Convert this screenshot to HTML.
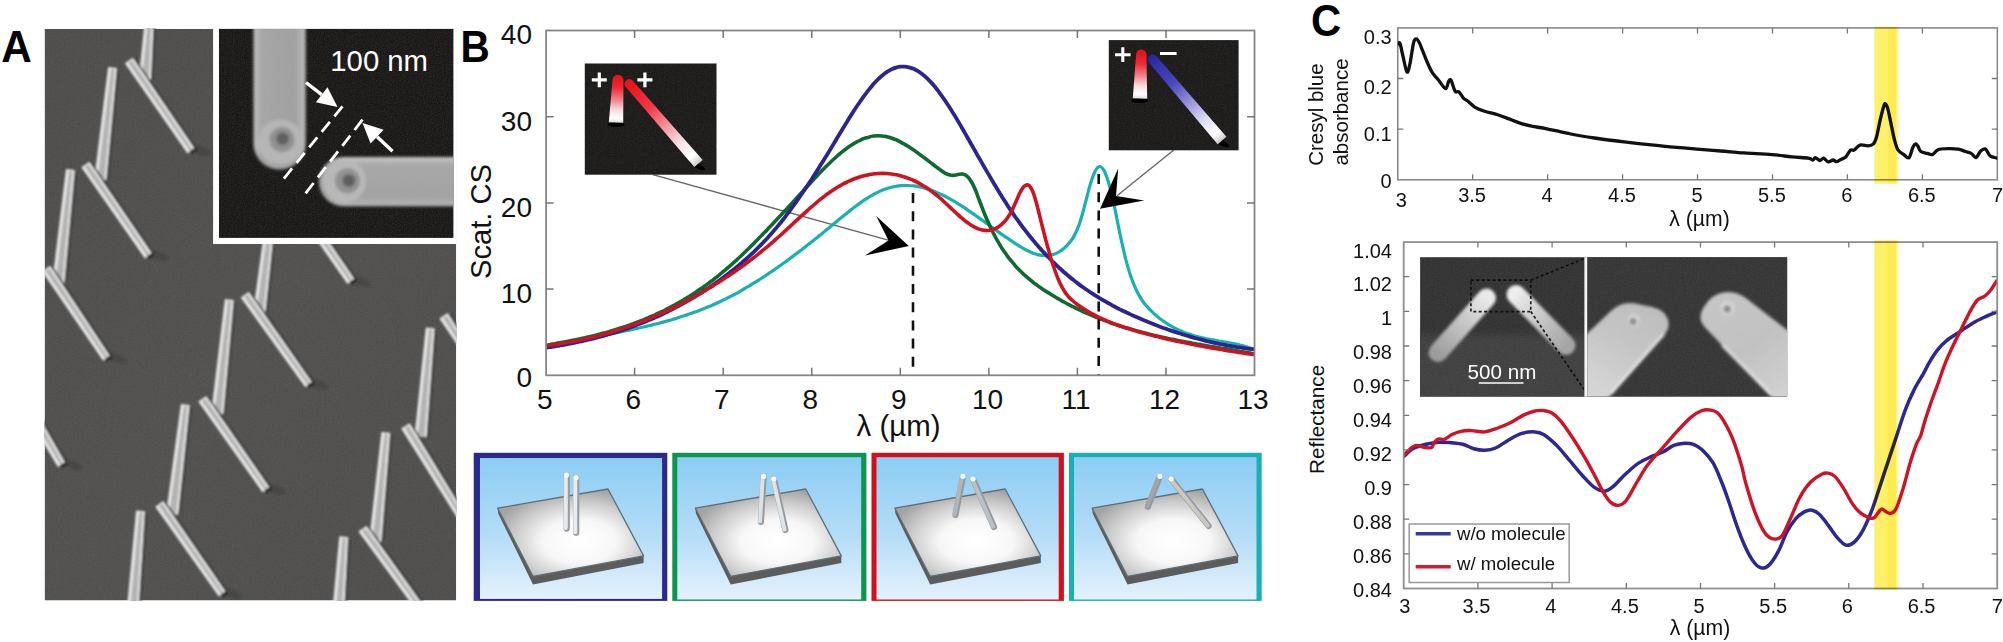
<!DOCTYPE html>
<html lang="en"><head><meta charset="utf-8"><title>Figure</title>
<style>
html,body{margin:0;padding:0;background:#fff;}
body{width:2003px;height:642px;overflow:hidden;font-family:"Liberation Sans",Arial,sans-serif;}
svg{display:block;}
</style></head><body>
<svg width="2003" height="642" viewBox="0 0 2003 642">
<defs>
<linearGradient id="agrad" x1="0" y1="0" x2="1" y2="1">
<stop offset="0" stop-color="#4d4c4a"/><stop offset="0.5" stop-color="#51504e"/><stop offset="1" stop-color="#4e4d4b"/></linearGradient>
<filter id="noise" x="0" y="0" width="100%" height="100%">
<feTurbulence type="fractalNoise" baseFrequency="0.9" numOctaves="2" seed="3" result="n"/>
<feColorMatrix in="n" type="matrix" values="0 0 0 0 0.5  0 0 0 0 0.5  0 0 0 0 0.5  0.9 0.9 0.9 0 -1.0"/>
</filter>
<filter id="blur1" filterUnits="userSpaceOnUse" x="0" y="0" width="2003" height="642"><feGaussianBlur stdDeviation="0.7"/></filter>
<filter id="blur2" filterUnits="userSpaceOnUse" x="0" y="0" width="2003" height="642"><feGaussianBlur stdDeviation="1.6"/></filter>
<filter id="blurA" filterUnits="userSpaceOnUse" x="40" y="20" width="420" height="590"><feGaussianBlur stdDeviation="0.9"/></filter>
<filter id="blur3" filterUnits="userSpaceOnUse" x="0" y="0" width="2003" height="642"><feGaussianBlur stdDeviation="3"/></filter>
<linearGradient id="sky" x1="0" y1="0" x2="0" y2="1">
<stop offset="0" stop-color="#8ccdf4"/><stop offset="0.55" stop-color="#b4dcf7"/><stop offset="1" stop-color="#e4f2fc"/></linearGradient>
<radialGradient id="slab" cx="0.56" cy="0.6" r="0.6">
<stop offset="0" stop-color="#ffffff"/><stop offset="0.42" stop-color="#f7f7f7"/><stop offset="0.75" stop-color="#cbcbcb"/><stop offset="1" stop-color="#a4a4a4"/></radialGradient>
<linearGradient id="redrod" x1="0" y1="0" x2="0" y2="1">
<stop offset="0" stop-color="#e8101c"/><stop offset="0.3" stop-color="#f04050"/><stop offset="0.75" stop-color="#f6d6da"/><stop offset="1" stop-color="#ffffff"/></linearGradient>
<linearGradient id="redrod2" x1="0" y1="0" x2="1" y2="1">
<stop offset="0" stop-color="#e8101c"/><stop offset="0.35" stop-color="#ee3a48"/><stop offset="0.75" stop-color="#f4c0c6"/><stop offset="1" stop-color="#ffffff"/></linearGradient>
<linearGradient id="bluerod" x1="0" y1="0" x2="1" y2="1">
<stop offset="0" stop-color="#2c2aa8"/><stop offset="0.4" stop-color="#5a55c8"/><stop offset="0.75" stop-color="#c4c0ec"/><stop offset="1" stop-color="#ffffff"/></linearGradient>
<clipPath id="clipA"><rect x="44.6" y="28.9" width="411.6" height="571.6"/></clipPath>
<clipPath id="clipIn"><rect x="219" y="28.9" width="234.4" height="209.0"/></clipPath>
<clipPath id="clipB"><rect x="546.5" y="30.5" width="708" height="345"/></clipPath>
<clipPath id="clipC1"><rect x="1397.8" y="27.9" width="599.5" height="152"/></clipPath>
<clipPath id="clipC2"><rect x="1403.7" y="242.1" width="593.5" height="346.5"/></clipPath>
<clipPath id="clipI1"><rect x="1420.1" y="257.2" width="164.3" height="139.4"/></clipPath>
<clipPath id="clipI2"><rect x="1587.3" y="257.2" width="199.9" height="139.4"/></clipPath>
<linearGradient id="band" x1="0" y1="0" x2="1" y2="0"><stop offset="0" stop-color="#fffbe0"/><stop offset="0.05" stop-color="#fdf06c"/><stop offset="0.52" stop-color="#fdf06a"/><stop offset="0.58" stop-color="#fdec50"/><stop offset="0.87" stop-color="#fdec50"/><stop offset="0.91" stop-color="#fef6ae"/><stop offset="1" stop-color="#fffbe0"/></linearGradient>
</defs>
<rect x="0" y="0" width="2003" height="642" fill="#ffffff"/>
<g id="panelA">
<text transform="translate(1.3 61.7) scale(0.94 1)" font-family='"Liberation Sans", Arial, Helvetica, sans-serif' font-weight="bold" font-size="45" fill="#000">A</text>
<g clip-path="url(#clipA)">
<rect x="44.6" y="28.9" width="411.6" height="571.6" fill="url(#agrad)"/>
<rect x="44.6" y="28.9" width="411.6" height="571.6" filter="url(#noise)" opacity="0.10"/>
<g filter="url(#blurA)">
<ellipse cx="199" cy="150" rx="13" ry="4" fill="#333" opacity="0.35" transform="rotate(20 199 150)"/>
<ellipse cx="156.4" cy="255" rx="13" ry="4" fill="#333" opacity="0.35" transform="rotate(20 156.4 255)"/>
<ellipse cx="114.5" cy="357.5" rx="13" ry="4" fill="#333" opacity="0.35" transform="rotate(20 114.5 357.5)"/>
<ellipse cx="69.5" cy="463.8" rx="13" ry="4" fill="#333" opacity="0.35" transform="rotate(20 69.5 463.8)"/>
<ellipse cx="359" cy="280.7" rx="13" ry="4" fill="#333" opacity="0.35" transform="rotate(20 359 280.7)"/>
<ellipse cx="316.7" cy="383.8" rx="13" ry="4" fill="#333" opacity="0.35" transform="rotate(20 316.7 383.8)"/>
<ellipse cx="274" cy="489" rx="13" ry="4" fill="#333" opacity="0.35" transform="rotate(20 274 489)"/>
<ellipse cx="230.2" cy="593.1" rx="13" ry="4" fill="#333" opacity="0.35" transform="rotate(20 230.2 593.1)"/>
<ellipse cx="475.8" cy="352" rx="13" ry="4" fill="#333" opacity="0.35" transform="rotate(20 475.8 352)"/>
<ellipse cx="475.4" cy="525.4" rx="13" ry="4" fill="#333" opacity="0.35" transform="rotate(20 475.4 525.4)"/>
<ellipse cx="432.1" cy="612.9" rx="13" ry="4" fill="#333" opacity="0.35" transform="rotate(20 432.1 612.9)"/>
<path d="M147.4 17.1L155.8 17.8L152.9 79.6L141.1 78.7Z" fill="#2b2b2b" fill-opacity="0.8"/><path d="M145.3 15L154 15.6L151 79.4L138.8 78.5Z" fill="#e6e6e6"/><path d="M148.3 16.7L151.7 17L148.8 79.3L142 78.8Z" fill="#b2b2b2"/>
<path d="M127.8 63.6L135.5 58.3L196 147.5L189.4 152.1Z" fill="#2b2b2b" fill-opacity="0.8"/><path d="M124.8 63.3L132.8 57.7L194.5 148.6L187.5 153.4Z" fill="#e6e6e6"/><path d="M128.2 62.7L131.9 60.2L192.6 149.9L190.2 151.6Z" fill="#b2b2b2"/><line x1="192.2" y1="149.6" x2="194.1" y2="152.3" stroke="#262626" stroke-opacity="0.9" stroke-width="7"/>
<path d="M110.2 69.3L118.5 70.2L108.3 180.3L96.6 179.1Z" fill="#2b2b2b" fill-opacity="0.8"/><path d="M108.1 67L116.9 68L106.4 180.1L94.3 178.8Z" fill="#e6e6e6"/><path d="M111.1 68.9L114.5 69.2L104.3 179.9L97.5 179.2Z" fill="#b2b2b2"/>
<path d="M84.3 167.6L92 162.3L153.4 252.5L146.8 257.1Z" fill="#2b2b2b" fill-opacity="0.8"/><path d="M81.3 167.3L89.3 161.7L151.9 253.6L144.9 258.4Z" fill="#e6e6e6"/><path d="M84.8 166.7L88.4 164.2L150 254.9L147.6 256.6Z" fill="#b2b2b2"/><line x1="149.6" y1="254.6" x2="151.5" y2="257.3" stroke="#262626" stroke-opacity="0.9" stroke-width="7"/>
<path d="M68.1 171.3L76.5 172.2L66.3 283.1L54.6 281.9Z" fill="#2b2b2b" fill-opacity="0.8"/><path d="M66 169L74.8 170L64.4 282.9L52.3 281.6Z" fill="#e6e6e6"/><path d="M69 170.9L72.4 171.2L62.3 282.7L55.5 282Z" fill="#b2b2b2"/>
<path d="M45 271.6L52.8 266.4L111.6 355.1L104.9 359.6Z" fill="#2b2b2b" fill-opacity="0.8"/><path d="M41.9 271.2L50.1 265.8L110 356.2L103 360.8Z" fill="#e6e6e6"/><path d="M45.4 270.7L49.1 268.2L108.2 357.4L105.7 359.1Z" fill="#b2b2b2"/><line x1="107.7" y1="357.1" x2="109.6" y2="359.8" stroke="#262626" stroke-opacity="0.9" stroke-width="7"/>
<path d="M26.7 410.6L34.8 405.9L66.8 461.7L59.9 465.8Z" fill="#2b2b2b" fill-opacity="0.8"/><path d="M23.7 410.1L32.1 405.1L65.1 462.7L57.9 466.9Z" fill="#e6e6e6"/><path d="M27.2 409.8L31 407.5L63.2 463.8L60.6 465.3Z" fill="#b2b2b2"/><line x1="62.8" y1="463.5" x2="64.5" y2="466.3" stroke="#262626" stroke-opacity="0.9" stroke-width="7"/>
<path d="M288 195.1L295.7 189.8L356 278.2L349.4 282.8Z" fill="#2b2b2b" fill-opacity="0.8"/><path d="M285 194.8L293 189.2L354.5 279.3L347.5 284.1Z" fill="#e6e6e6"/><path d="M288.5 194.2L292.1 191.7L352.6 280.6L350.2 282.3Z" fill="#b2b2b2"/><line x1="352.2" y1="280.3" x2="354.1" y2="283" stroke="#262626" stroke-opacity="0.9" stroke-width="7"/>
<path d="M270.5 201.7L278.8 202.7L267.2 313.6L255.5 312.2Z" fill="#2b2b2b" fill-opacity="0.8"/><path d="M268.4 199.5L277.2 200.5L265.3 313.4L253.2 311.9Z" fill="#e6e6e6"/><path d="M271.4 201.3L274.8 201.8L263.1 313.1L256.4 312.3Z" fill="#b2b2b2"/>
<path d="M243.7 297.9L251.4 292.5L313.7 381.3L307.2 385.9Z" fill="#2b2b2b" fill-opacity="0.8"/><path d="M240.7 297.6L248.7 292L312.1 382.4L305.3 387.2Z" fill="#e6e6e6"/><path d="M244.2 297L247.8 294.5L310.3 383.6L307.9 385.4Z" fill="#b2b2b2"/><line x1="309.9" y1="383.3" x2="311.8" y2="386" stroke="#262626" stroke-opacity="0.9" stroke-width="7"/>
<path d="M227 301.2L235.4 302L225.2 414.3L213.5 413.1Z" fill="#2b2b2b" fill-opacity="0.8"/><path d="M224.9 298.9L233.7 299.9L223.4 414.1L211.2 412.8Z" fill="#e6e6e6"/><path d="M227.9 300.8L231.3 301.1L221.2 413.9L214.4 413.2Z" fill="#b2b2b2"/>
<path d="M201.2 401.9L208.9 396.5L271 486.5L264.4 491.1Z" fill="#2b2b2b" fill-opacity="0.8"/><path d="M198.2 401.6L206.2 396L269.4 487.6L262.6 492.4Z" fill="#e6e6e6"/><path d="M201.7 401L205.3 398.5L267.6 488.9L265.2 490.6Z" fill="#b2b2b2"/><line x1="267.2" y1="488.6" x2="269.1" y2="491.3" stroke="#262626" stroke-opacity="0.9" stroke-width="7"/>
<path d="M183 406.2L191.3 407.2L180.1 514.9L168.4 513.5Z" fill="#2b2b2b" fill-opacity="0.8"/><path d="M180.9 404L189.7 405L178.2 514.7L166.1 513.3Z" fill="#e6e6e6"/><path d="M183.9 405.8L187.3 406.3L176 514.4L169.3 513.6Z" fill="#b2b2b2"/>
<path d="M158.2 507L165.9 501.6L227.2 590.6L220.6 595.2Z" fill="#2b2b2b" fill-opacity="0.8"/><path d="M155.2 506.7L163.2 501.1L225.6 591.7L218.8 596.5Z" fill="#e6e6e6"/><path d="M158.7 506.1L162.3 503.6L223.8 593L221.4 594.7Z" fill="#b2b2b2"/><line x1="223.4" y1="592.7" x2="225.3" y2="595.4" stroke="#262626" stroke-opacity="0.9" stroke-width="7"/>
<path d="M138.2 512.7L146.6 513.4L139.8 621.1L128.1 620.2Z" fill="#2b2b2b" fill-opacity="0.8"/><path d="M136.1 510.6L144.9 511.2L137.9 620.9L125.8 620Z" fill="#e6e6e6"/><path d="M139.2 512.3L142.6 512.6L135.8 620.8L129 620.2Z" fill="#b2b2b2"/>
<path d="M442.4 318.8L450.3 313.7L472.9 349.7L466.2 354.1Z" fill="#2b2b2b" fill-opacity="0.8"/><path d="M439.4 318.4L447.6 313L471.3 350.8L464.2 355.3Z" fill="#e6e6e6"/><path d="M442.9 317.9L446.6 315.5L469.4 352L466.9 353.6Z" fill="#b2b2b2"/><line x1="469" y1="351.7" x2="470.8" y2="354.4" stroke="#262626" stroke-opacity="0.9" stroke-width="7"/>
<path d="M427.9 329.6L436.3 330.3L428.5 437.5L416.7 436.5Z" fill="#2b2b2b" fill-opacity="0.8"/><path d="M425.8 327.4L434.6 328.2L426.6 437.3L414.5 436.2Z" fill="#e6e6e6"/><path d="M428.9 329.2L432.3 329.5L424.4 437.1L417.6 436.5Z" fill="#b2b2b2"/>
<path d="M404.2 429L412.2 424L472.6 523.2L465.8 527.4Z" fill="#2b2b2b" fill-opacity="0.8"/><path d="M401.2 428.5L409.6 423.3L471 524.2L463.8 528.6Z" fill="#e6e6e6"/><path d="M404.7 428.1L408.5 425.8L469.1 525.3L466.5 526.9Z" fill="#b2b2b2"/><line x1="468.7" y1="525" x2="470.4" y2="527.8" stroke="#262626" stroke-opacity="0.9" stroke-width="7"/>
<path d="M383.5 434.2L391.9 435L383.2 542.8L371.4 541.6Z" fill="#2b2b2b" fill-opacity="0.8"/><path d="M381.4 432L390.2 432.8L381.3 542.6L369.1 541.4Z" fill="#e6e6e6"/><path d="M384.5 433.8L387.8 434.1L379.1 542.4L372.3 541.7Z" fill="#b2b2b2"/>
<path d="M361.5 531.8L369.1 526.3L429 610.3L422.5 615Z" fill="#2b2b2b" fill-opacity="0.8"/><path d="M358.4 531.6L366.4 525.8L427.5 611.4L420.7 616.4Z" fill="#e6e6e6"/><path d="M361.9 530.9L365.5 528.3L425.7 612.7L423.3 614.5Z" fill="#b2b2b2"/><line x1="425.2" y1="612.4" x2="427.2" y2="615.1" stroke="#262626" stroke-opacity="0.9" stroke-width="7"/>
<path d="M341.5 538.4L349.8 539.1L345.5 622.2L333.7 621.3Z" fill="#2b2b2b" fill-opacity="0.8"/><path d="M339.3 536.3L348.1 536.9L343.6 622.1L331.4 621.2Z" fill="#e6e6e6"/><path d="M342.4 538L345.8 538.3L341.4 621.9L334.6 621.4Z" fill="#b2b2b2"/>
</g>
<rect x="213.1" y="28.7" width="243.3" height="215.3" fill="#ffffff"/>
<rect x="219" y="28.9" width="234.4" height="209.0" fill="#171614"/>
<g clip-path="url(#clipIn)">
<linearGradient id="tubeV" x1="0" y1="0" x2="1" y2="0"><stop offset="0" stop-color="#c4c4c4"/><stop offset="0.14" stop-color="#a6a6a6"/><stop offset="0.8" stop-color="#a0a0a0"/><stop offset="1" stop-color="#bdbdbd"/></linearGradient>
<linearGradient id="tubeH" x1="0" y1="0" x2="0" y2="1"><stop offset="0" stop-color="#c8c8c8"/><stop offset="0.16" stop-color="#a8a8a8"/><stop offset="0.8" stop-color="#a2a2a2"/><stop offset="1" stop-color="#b4b4b4"/></linearGradient>
<g filter="url(#blur2)">
<path d="M253.6 20 L253.6 143.5 A26 26 0 0 0 305.6 143.5 L305.6 20 Z" fill="url(#tubeV)"/>
<path d="M470 157 L343.5 157 A24.6 24.6 0 0 0 343.5 206.2 L470 206.2 Z" fill="url(#tubeH)"/>
<circle cx="280.6" cy="142" r="22.5" fill="#b6b6b6"/>
<circle cx="282" cy="139.5" r="12.5" fill="#8e8e8e"/>
<circle cx="282.5" cy="138.5" r="6.3" fill="#5c5c5c"/>
<circle cx="344.5" cy="181.5" r="21.5" fill="#b8b8b8"/>
<circle cx="347.5" cy="180.8" r="12.5" fill="#909090"/>
<circle cx="348.8" cy="180.5" r="6.3" fill="#5a5a5a"/>
</g>
<rect x="219" y="28.9" width="234.4" height="209.0" filter="url(#noise)" opacity="0.14"/>
<g stroke="#ffffff" stroke-width="2.8" fill="none" stroke-dasharray="13 7">
<line x1="342.5" y1="106.3" x2="281.9" y2="181"/>
<line x1="362.5" y1="119.7" x2="302.9" y2="196.8"/>
</g>
<line x1="306" y1="82.5" x2="321.7" y2="94.7" stroke="#fff" stroke-width="3.4"/><path d="M337.5 107L315.9 102.2L327.5 87.2Z" fill="#fff"/>
<line x1="392.5" y1="151.2" x2="377.1" y2="136.7" stroke="#fff" stroke-width="3.4"/><path d="M362.5 123L383.6 129.8L370.6 143.6Z" fill="#fff"/>
<text x="330.3" y="70.8" font-family='"Liberation Sans", Arial, Helvetica, sans-serif' font-size="29.3" fill="#fff">100 nm</text>
</g>
</g>
</g>
<g id="panelB">
<text transform="translate(460.5 61.7) scale(0.9 1)" font-family='"Liberation Sans", Arial, Helvetica, sans-serif' font-weight="bold" font-size="45" fill="#000">B</text>
<rect x="546.1" y="30.5" width="708.4" height="344.8" fill="#fff"/>
<line x1="652.8" y1="174.7" x2="889" y2="240.3" stroke="#666" stroke-width="1.4"/>
<line x1="1173.5" y1="150.3" x2="1117" y2="195.8" stroke="#666" stroke-width="1.4"/>
<g clip-path="url(#clipB)" fill="none" stroke-linejoin="round" stroke-linecap="round">
<path d="M546.1 347.4C546.8 347.2 549.1 346.6 550.5 346.3C552 345.9 553.5 345.6 555 345.2C556.4 344.9 557.9 344.5 559.4 344.2C560.9 343.9 562.3 343.5 563.8 343.2C565.3 342.9 566.8 342.6 568.2 342.2C569.7 341.9 571.2 341.6 572.7 341.3C574.1 341 575.6 340.7 577.1 340.4C578.6 340.1 580 339.8 581.5 339.5C583 339.2 584.5 338.9 585.9 338.6C587.4 338.3 588.9 338 590.4 337.8C591.9 337.5 593.3 337.2 594.8 336.9C596.3 336.6 597.8 336.3 599.2 336C600.7 335.7 602.2 335.5 603.7 335.2C605.1 334.9 606.6 334.6 608.1 334.3C609.6 334 611 333.7 612.5 333.5C614 333.2 615.5 332.9 616.9 332.6C618.4 332.3 619.9 332 621.4 331.7C622.8 331.4 624.3 331.1 625.8 330.8C627.3 330.5 628.7 330.2 630.2 329.9C631.7 329.6 633.2 329.3 634.6 328.9C636.1 328.6 637.6 328.3 639.1 328C640.6 327.6 642 327.3 643.5 327C645 326.6 646.5 326.3 647.9 326C649.4 325.6 650.9 325.2 652.4 324.9C653.8 324.5 655.3 324.2 656.8 323.8C658.3 323.4 659.7 323 661.2 322.6C662.7 322.2 664.2 321.8 665.6 321.4C667.1 321 668.6 320.6 670.1 320.2C671.5 319.8 673 319.3 674.5 318.9C676 318.5 677.4 318 678.9 317.5C680.4 317.1 681.9 316.6 683.4 316.1C684.8 315.6 686.3 315.2 687.8 314.6C689.3 314.1 690.7 313.6 692.2 313.1C693.7 312.6 695.2 312 696.6 311.5C698.1 310.9 699.6 310.4 701.1 309.8C702.5 309.2 704 308.6 705.5 308C707 307.4 708.4 306.8 709.9 306.2C711.4 305.6 712.9 304.9 714.3 304.3C715.8 303.6 717.3 302.9 718.8 302.2C720.2 301.6 721.7 300.8 723.2 300.1C724.7 299.4 726.2 298.7 727.6 297.9C729.1 297.2 730.6 296.4 732.1 295.6C733.5 294.9 735 294.1 736.5 293.3C738 292.4 739.4 291.6 740.9 290.8C742.4 290 743.9 289.1 745.3 288.2C746.8 287.4 748.3 286.5 749.8 285.6C751.2 284.7 752.7 283.8 754.2 282.9C755.7 282 757.1 281.1 758.6 280.1C760.1 279.2 761.6 278.2 763 277.3C764.5 276.3 766 275.3 767.5 274.3C769 273.3 770.4 272.3 771.9 271.3C773.4 270.3 774.9 269.3 776.3 268.3C777.8 267.2 779.3 266.2 780.8 265.1C782.2 264.1 783.7 263 785.2 262C786.7 260.9 788.1 259.8 789.6 258.7C791.1 257.6 792.6 256.5 794 255.4C795.5 254.3 797 253.2 798.5 252.1C799.9 251 801.4 249.8 802.9 248.7C804.4 247.6 805.8 246.4 807.3 245.3C808.8 244.1 810.3 242.9 811.8 241.8C813.2 240.6 814.7 239.4 816.2 238.2C817.7 237.1 819.1 235.9 820.6 234.7C822.1 233.5 823.6 232.3 825 231.1C826.5 229.9 828 228.7 829.5 227.5C830.9 226.2 832.4 225 833.9 223.8C835.4 222.6 836.8 221.3 838.3 220.1C839.8 218.9 841.3 217.7 842.7 216.5C844.2 215.3 845.7 214.1 847.2 212.9C848.6 211.7 850.1 210.5 851.6 209.4C853.1 208.2 854.5 207.1 856 206C857.5 204.9 859 203.8 860.5 202.8C861.9 201.7 863.4 200.7 864.9 199.7C866.4 198.8 867.8 197.8 869.3 196.9C870.8 196 872.3 195.2 873.7 194.3C875.2 193.5 876.7 192.8 878.2 192.1C879.6 191.3 881.1 190.7 882.6 190.1C884.1 189.5 885.5 188.9 887 188.5C888.5 188 890 187.6 891.4 187.2C892.9 186.8 894.4 186.5 895.9 186.3C897.3 186 898.8 185.9 900.3 185.7C901.8 185.6 903.3 185.5 904.7 185.5C906.2 185.5 907.7 185.5 909.2 185.6C910.6 185.6 912.1 185.8 913.6 185.9C915.1 186.1 916.5 186.3 918 186.6C919.5 186.9 921 187.2 922.4 187.5C923.9 187.9 925.4 188.3 926.9 188.8C928.3 189.2 929.8 189.7 931.3 190.2C932.8 190.8 934.2 191.3 935.7 191.9C937.2 192.5 938.7 193.2 940.1 193.9C941.6 194.5 943.1 195.3 944.6 196C946.1 196.8 947.5 197.6 949 198.4C950.5 199.2 952 200 953.4 200.9C954.9 201.7 956.4 202.6 957.9 203.6C959.3 204.5 960.8 205.4 962.3 206.4C963.8 207.3 965.2 208.3 966.7 209.3C968.2 210.3 969.7 211.3 971.1 212.3C972.6 213.3 974.1 214.4 975.6 215.4C977 216.5 978.5 217.5 980 218.6C981.5 219.6 982.9 220.7 984.4 221.8C985.9 222.8 987.4 223.9 988.9 225C990.3 226.1 991.8 227.1 993.3 228.2C994.8 229.3 996.2 230.3 997.7 231.4C999.2 232.5 1000.7 233.5 1002.1 234.6C1003.6 235.6 1005.1 236.6 1006.6 237.6C1008 238.7 1009.5 239.7 1011 240.7C1012.5 241.7 1013.9 242.6 1015.4 243.6C1016.9 244.5 1018.4 245.5 1019.8 246.4C1021.3 247.3 1022.8 248.2 1024.3 249C1025.7 249.8 1027.2 250.6 1028.7 251.3C1030.2 251.9 1031.6 252.6 1033.1 253.2C1034.6 253.7 1036.1 254.2 1037.6 254.6C1039 255 1040.5 255.3 1042 255.4C1043.5 255.6 1044.9 255.7 1046.4 255.7C1047.9 255.6 1049.4 255.5 1050.8 255.1C1052.3 254.8 1053.8 254.4 1055.3 253.8C1056.7 253.2 1058.2 252.4 1059.7 251.5C1061.2 250.6 1062.6 249.5 1064.1 248.2C1065.6 246.9 1067.1 245.6 1068.5 243.8C1070 242.1 1071.5 240.4 1073 237.9C1074.4 235.4 1075.9 232.7 1077.4 229.1C1078.9 225.5 1080.4 221.1 1081.8 216.1C1083.3 211.1 1084.8 204.8 1086.3 199.3C1087.7 193.8 1089.2 187.7 1090.7 183.1C1092.2 178.4 1093.6 174 1095.1 171.3C1096.6 168.5 1098.1 166.7 1099.5 166.5C1101 166.4 1102.5 167.9 1104 170.4C1105.4 173 1106.9 177.1 1108.4 181.9C1109.9 186.7 1111.3 192.8 1112.8 199.2C1114.3 205.6 1115.8 213.2 1117.2 220.3C1118.7 227.5 1120.2 235.2 1121.7 241.9C1123.2 248.7 1124.6 255.1 1126.1 260.7C1127.6 266.3 1129.1 271.2 1130.5 275.6C1132 280 1133.5 283.7 1135 287.1C1136.4 290.5 1137.9 293.3 1139.4 295.9C1140.9 298.5 1142.3 300.7 1143.8 302.7C1145.3 304.7 1146.8 306.3 1148.2 307.9C1149.7 309.5 1151.2 310.9 1152.7 312.3C1154.1 313.7 1155.6 315 1157.1 316.3C1158.6 317.5 1160 318.7 1161.5 319.8C1163 320.9 1164.5 322 1166 322.9C1167.4 323.9 1168.9 324.8 1170.4 325.7C1171.9 326.6 1173.3 327.4 1174.8 328.2C1176.3 328.9 1177.8 329.6 1179.2 330.3C1180.7 331 1182.2 331.6 1183.7 332.2C1185.1 332.8 1186.6 333.3 1188.1 333.8C1189.6 334.3 1191 334.8 1192.5 335.2C1194 335.7 1195.5 336.1 1196.9 336.5C1198.4 336.9 1199.9 337.2 1201.4 337.6C1202.8 337.9 1204.3 338.2 1205.8 338.5C1207.3 338.8 1208.7 339.1 1210.2 339.4C1211.7 339.7 1213.2 340 1214.7 340.2C1216.1 340.5 1217.6 340.7 1219.1 341C1220.6 341.2 1222 341.5 1223.5 341.8C1225 342 1226.5 342.3 1227.9 342.5C1229.4 342.8 1230.9 343.1 1232.4 343.4C1233.8 343.7 1235.3 344 1236.8 344.3C1238.3 344.6 1239.7 345 1241.2 345.4C1242.7 345.7 1244.2 346.1 1245.6 346.5C1247.1 347 1248.6 347.4 1250.1 347.9C1251.5 348.4 1253.8 349.2 1254.5 349.4" stroke="#17b1b1" stroke-width="3.2"/>
<path d="M546.1 345.2C546.8 345.1 549.1 344.7 550.5 344.4C552 344.2 553.5 343.9 555 343.7C556.4 343.4 557.9 343.1 559.4 342.9C560.9 342.6 562.3 342.3 563.8 342.1C565.3 341.8 566.8 341.5 568.2 341.2C569.7 340.9 571.2 340.6 572.7 340.3C574.1 340 575.6 339.7 577.1 339.4C578.6 339.1 580 338.8 581.5 338.5C583 338.2 584.5 337.8 585.9 337.5C587.4 337.2 588.9 336.8 590.4 336.5C591.9 336.1 593.3 335.8 594.8 335.4C596.3 335 597.8 334.7 599.2 334.3C600.7 333.9 602.2 333.5 603.7 333.1C605.1 332.7 606.6 332.3 608.1 331.9C609.6 331.5 611 331 612.5 330.6C614 330.2 615.5 329.7 616.9 329.2C618.4 328.8 619.9 328.3 621.4 327.8C622.8 327.4 624.3 326.9 625.8 326.4C627.3 325.9 628.7 325.4 630.2 324.8C631.7 324.3 633.2 323.8 634.6 323.2C636.1 322.7 637.6 322.1 639.1 321.5C640.6 321 642 320.4 643.5 319.8C645 319.2 646.5 318.6 647.9 317.9C649.4 317.3 650.9 316.7 652.4 316C653.8 315.3 655.3 314.7 656.8 314C658.3 313.3 659.7 312.6 661.2 311.9C662.7 311.2 664.2 310.5 665.6 309.7C667.1 309 668.6 308.2 670.1 307.4C671.5 306.7 673 305.9 674.5 305.1C676 304.2 677.4 303.4 678.9 302.6C680.4 301.7 681.9 300.9 683.4 300C684.8 299.1 686.3 298.2 687.8 297.3C689.3 296.4 690.7 295.5 692.2 294.5C693.7 293.6 695.2 292.6 696.6 291.6C698.1 290.6 699.6 289.6 701.1 288.6C702.5 287.6 704 286.5 705.5 285.5C707 284.4 708.4 283.3 709.9 282.2C711.4 281.1 712.9 280 714.3 278.8C715.8 277.7 717.3 276.5 718.8 275.3C720.2 274.1 721.7 272.9 723.2 271.7C724.7 270.5 726.2 269.2 727.6 267.9C729.1 266.7 730.6 265.4 732.1 264.1C733.5 262.7 735 261.4 736.5 260.1C738 258.7 739.4 257.3 740.9 256C742.4 254.6 743.9 253.2 745.3 251.7C746.8 250.3 748.3 248.9 749.8 247.4C751.2 246 752.7 244.5 754.2 243.1C755.7 241.6 757.1 240.1 758.6 238.6C760.1 237.1 761.6 235.6 763 234C764.5 232.5 766 231 767.5 229.4C769 227.9 770.4 226.3 771.9 224.8C773.4 223.2 774.9 221.6 776.3 220.1C777.8 218.5 779.3 216.9 780.8 215.3C782.2 213.7 783.7 212.1 785.2 210.5C786.7 208.9 788.1 207.3 789.6 205.7C791.1 204.1 792.6 202.5 794 200.9C795.5 199.3 797 197.6 798.5 196C799.9 194.4 801.4 192.8 802.9 191.2C804.4 189.5 805.8 187.9 807.3 186.3C808.8 184.7 810.3 183.1 811.8 181.5C813.2 179.9 814.7 178.3 816.2 176.7C817.7 175.1 819.1 173.6 820.6 172.1C822.1 170.5 823.6 169 825 167.5C826.5 166 828 164.6 829.5 163.2C830.9 161.7 832.4 160.3 833.9 159C835.4 157.6 836.8 156.3 838.3 155C839.8 153.8 841.3 152.6 842.7 151.4C844.2 150.2 845.7 149.1 847.2 148C848.6 146.9 850.1 145.9 851.6 145C853.1 144 854.5 143.1 856 142.3C857.5 141.5 859 140.7 860.5 140.1C861.9 139.4 863.4 138.8 864.9 138.2C866.4 137.7 867.8 137.2 869.3 136.9C870.8 136.5 872.3 136.2 873.7 136C875.2 135.8 876.7 135.7 878.2 135.7C879.6 135.7 881.1 135.8 882.6 136C884.1 136.1 885.5 136.4 887 136.7C888.5 137.1 890 137.5 891.4 138C892.9 138.5 894.4 139.1 895.9 139.7C897.3 140.4 898.8 141.1 900.3 141.8C901.8 142.6 903.3 143.4 904.7 144.3C906.2 145.1 907.7 146 909.2 147C910.6 147.9 912.1 148.9 913.6 149.9C915.1 151 916.5 152 918 153.1C919.5 154.2 921 155.3 922.4 156.4C923.9 157.5 925.4 158.6 926.9 159.7C928.3 160.9 929.8 162 931.3 163.1C932.8 164.3 934.2 165.4 935.7 166.5C937.2 167.6 938.7 168.8 940.1 169.8C941.6 170.9 943.1 172 944.6 172.8C946.1 173.6 947.5 174.4 949 174.8C950.5 175.3 952 175.4 953.4 175.4C954.9 175.3 956.4 174.7 957.9 174.5C959.3 174.3 960.8 173.8 962.3 174C963.8 174.2 965.2 174.6 966.7 175.8C968.2 177 969.7 178.8 971.1 181.3C972.6 183.7 974.1 187 975.6 190.4C977 193.9 978.5 198.2 980 202C981.5 205.9 982.9 209.9 984.4 213.5C985.9 217.2 987.4 220.6 988.9 223.8C990.3 227.1 991.8 230.1 993.3 233C994.8 235.9 996.2 238.6 997.7 241.2C999.2 243.8 1000.7 246.2 1002.1 248.5C1003.6 250.7 1005.1 252.9 1006.6 254.9C1008 257 1009.5 258.9 1011 260.7C1012.5 262.5 1013.9 264.2 1015.4 265.9C1016.9 267.5 1018.4 269.1 1019.8 270.6C1021.3 272.1 1022.8 273.5 1024.3 274.8C1025.7 276.2 1027.2 277.5 1028.7 278.7C1030.2 280 1031.6 281.2 1033.1 282.3C1034.6 283.5 1036.1 284.5 1037.6 285.6C1039 286.7 1040.5 287.7 1042 288.7C1043.5 289.7 1044.9 290.6 1046.4 291.6C1047.9 292.5 1049.4 293.4 1050.8 294.3C1052.3 295.2 1053.8 296.1 1055.3 297C1056.7 297.9 1058.2 298.7 1059.7 299.6C1061.2 300.4 1062.6 301.2 1064.1 302C1065.6 302.8 1067.1 303.6 1068.5 304.4C1070 305.2 1071.5 305.9 1073 306.7C1074.4 307.4 1075.9 308.2 1077.4 308.9C1078.9 309.6 1080.4 310.3 1081.8 311C1083.3 311.7 1084.8 312.3 1086.3 313C1087.7 313.6 1089.2 314.3 1090.7 314.9C1092.2 315.6 1093.6 316.2 1095.1 316.8C1096.6 317.4 1098.1 318 1099.5 318.6C1101 319.1 1102.5 319.7 1104 320.3C1105.4 320.8 1106.9 321.4 1108.4 321.9C1109.9 322.4 1111.3 323 1112.8 323.5C1114.3 324 1115.8 324.5 1117.2 325C1118.7 325.5 1120.2 325.9 1121.7 326.4C1123.2 326.9 1124.6 327.3 1126.1 327.8C1127.6 328.3 1129.1 328.7 1130.5 329.1C1132 329.6 1133.5 330 1135 330.4C1136.4 330.8 1137.9 331.2 1139.4 331.6C1140.9 332 1142.3 332.4 1143.8 332.8C1145.3 333.2 1146.8 333.5 1148.2 333.9C1149.7 334.3 1151.2 334.6 1152.7 335C1154.1 335.3 1155.6 335.7 1157.1 336C1158.6 336.4 1160 336.7 1161.5 337C1163 337.3 1164.5 337.7 1166 338C1167.4 338.3 1168.9 338.6 1170.4 338.9C1171.9 339.2 1173.3 339.5 1174.8 339.8C1176.3 340.1 1177.8 340.4 1179.2 340.7C1180.7 341 1182.2 341.3 1183.7 341.5C1185.1 341.8 1186.6 342.1 1188.1 342.4C1189.6 342.6 1191 342.9 1192.5 343.2C1194 343.4 1195.5 343.7 1196.9 344C1198.4 344.2 1199.9 344.5 1201.4 344.7C1202.8 345 1204.3 345.3 1205.8 345.5C1207.3 345.8 1208.7 346 1210.2 346.3C1211.7 346.5 1213.2 346.8 1214.7 347C1216.1 347.3 1217.6 347.5 1219.1 347.8C1220.6 348 1222 348.3 1223.5 348.5C1225 348.8 1226.5 349 1227.9 349.3C1229.4 349.5 1230.9 349.8 1232.4 350C1233.8 350.3 1235.3 350.5 1236.8 350.8C1238.3 351 1239.7 351.3 1241.2 351.6C1242.7 351.8 1244.2 352.1 1245.6 352.3C1247.1 352.6 1248.6 352.9 1250.1 353.1C1251.5 353.4 1253.8 353.8 1254.5 354" stroke="#0d6b30" stroke-width="3.6"/>
<path d="M546.1 347.7C546.8 347.6 549.1 347.3 550.5 347C552 346.8 553.5 346.6 555 346.3C556.4 346.1 557.9 345.8 559.4 345.6C560.9 345.3 562.3 345.1 563.8 344.8C565.3 344.5 566.8 344.3 568.2 344C569.7 343.7 571.2 343.4 572.7 343.1C574.1 342.8 575.6 342.5 577.1 342.2C578.6 341.9 580 341.6 581.5 341.3C583 340.9 584.5 340.6 585.9 340.3C587.4 339.9 588.9 339.6 590.4 339.2C591.9 338.9 593.3 338.5 594.8 338.1C596.3 337.7 597.8 337.4 599.2 337C600.7 336.6 602.2 336.2 603.7 335.8C605.1 335.4 606.6 335 608.1 334.5C609.6 334.1 611 333.7 612.5 333.2C614 332.8 615.5 332.3 616.9 331.9C618.4 331.4 619.9 330.9 621.4 330.4C622.8 329.9 624.3 329.5 625.8 328.9C627.3 328.4 628.7 327.9 630.2 327.4C631.7 326.9 633.2 326.3 634.6 325.8C636.1 325.2 637.6 324.7 639.1 324.1C640.6 323.5 642 323 643.5 322.4C645 321.8 646.5 321.2 647.9 320.6C649.4 319.9 650.9 319.3 652.4 318.7C653.8 318 655.3 317.4 656.8 316.7C658.3 316.1 659.7 315.4 661.2 314.7C662.7 314 664.2 313.3 665.6 312.6C667.1 311.9 668.6 311.1 670.1 310.4C671.5 309.7 673 308.9 674.5 308.1C676 307.4 677.4 306.6 678.9 305.8C680.4 305 681.9 304.2 683.4 303.4C684.8 302.6 686.3 301.7 687.8 300.9C689.3 300 690.7 299.2 692.2 298.3C693.7 297.4 695.2 296.5 696.6 295.6C698.1 294.7 699.6 293.8 701.1 292.8C702.5 291.9 704 290.9 705.5 290C707 289 708.4 288 709.9 287C711.4 286 712.9 285 714.3 284C715.8 282.9 717.3 281.9 718.8 280.8C720.2 279.8 721.7 278.7 723.2 277.6C724.7 276.5 726.2 275.4 727.6 274.3C729.1 273.1 730.6 272 732.1 270.8C733.5 269.7 735 268.5 736.5 267.3C738 266.1 739.4 264.8 740.9 263.6C742.4 262.3 743.9 261 745.3 259.7C746.8 258.4 748.3 257.1 749.8 255.7C751.2 254.4 752.7 253 754.2 251.6C755.7 250.1 757.1 248.7 758.6 247.2C760.1 245.7 761.6 244.2 763 242.7C764.5 241.2 766 239.6 767.5 238C769 236.4 770.4 234.7 771.9 233C773.4 231.3 774.9 229.6 776.3 227.9C777.8 226.1 779.3 224.3 780.8 222.5C782.2 220.6 783.7 218.8 785.2 216.8C786.7 214.9 788.1 213 789.6 211C791.1 209 792.6 207 794 205C795.5 202.9 797 200.8 798.5 198.7C799.9 196.6 801.4 194.5 802.9 192.3C804.4 190.2 805.8 188 807.3 185.7C808.8 183.5 810.3 181.3 811.8 179C813.2 176.7 814.7 174.4 816.2 172.1C817.7 169.8 819.1 167.5 820.6 165.1C822.1 162.8 823.6 160.4 825 158C826.5 155.6 828 153.2 829.5 150.8C830.9 148.3 832.4 145.9 833.9 143.4C835.4 141 836.8 138.5 838.3 136.1C839.8 133.6 841.3 131.2 842.7 128.7C844.2 126.3 845.7 123.9 847.2 121.5C848.6 119.1 850.1 116.7 851.6 114.4C853.1 112 854.5 109.8 856 107.5C857.5 105.3 859 103.1 860.5 101C861.9 98.8 863.4 96.8 864.9 94.8C866.4 92.8 867.8 90.9 869.3 89.1C870.8 87.2 872.3 85.5 873.7 83.8C875.2 82.2 876.7 80.6 878.2 79.2C879.6 77.8 881.1 76.4 882.6 75.2C884.1 74 885.5 72.9 887 71.9C888.5 71 890 70.1 891.4 69.4C892.9 68.7 894.4 68.1 895.9 67.6C897.3 67.2 898.8 66.9 900.3 66.7C901.8 66.6 903.3 66.5 904.7 66.6C906.2 66.7 907.7 67 909.2 67.3C910.6 67.7 912.1 68.2 913.6 68.8C915.1 69.5 916.5 70.2 918 71.1C919.5 72 921 73 922.4 74.2C923.9 75.4 925.4 76.6 926.9 78.1C928.3 79.5 929.8 81 931.3 82.6C932.8 84.2 934.2 86 935.7 87.8C937.2 89.6 938.7 91.6 940.1 93.6C941.6 95.6 943.1 97.7 944.6 99.8C946.1 102 947.5 104.2 949 106.5C950.5 108.8 952 111.2 953.4 113.6C954.9 116 956.4 118.4 957.9 120.9C959.3 123.4 960.8 125.9 962.3 128.5C963.8 131 965.2 133.6 966.7 136.2C968.2 138.7 969.7 141.4 971.1 144C972.6 146.6 974.1 149.2 975.6 151.8C977 154.4 978.5 157 980 159.5C981.5 162.1 982.9 164.7 984.4 167.3C985.9 169.8 987.4 172.4 988.9 174.9C990.3 177.4 991.8 179.9 993.3 182.4C994.8 184.9 996.2 187.4 997.7 189.8C999.2 192.2 1000.7 194.6 1002.1 197C1003.6 199.3 1005.1 201.6 1006.6 203.9C1008 206.2 1009.5 208.4 1011 210.6C1012.5 212.8 1013.9 214.9 1015.4 217.1C1016.9 219.2 1018.4 221.2 1019.8 223.2C1021.3 225.3 1022.8 227.2 1024.3 229.2C1025.7 231.1 1027.2 233 1028.7 234.8C1030.2 236.7 1031.6 238.5 1033.1 240.3C1034.6 242 1036.1 243.8 1037.6 245.5C1039 247.2 1040.5 248.8 1042 250.5C1043.5 252.1 1044.9 253.7 1046.4 255.2C1047.9 256.8 1049.4 258.3 1050.8 259.8C1052.3 261.2 1053.8 262.7 1055.3 264.1C1056.7 265.5 1058.2 266.9 1059.7 268.3C1061.2 269.6 1062.6 270.9 1064.1 272.2C1065.6 273.5 1067.1 274.8 1068.5 276C1070 277.3 1071.5 278.5 1073 279.6C1074.4 280.8 1075.9 282 1077.4 283.1C1078.9 284.2 1080.4 285.3 1081.8 286.4C1083.3 287.4 1084.8 288.5 1086.3 289.5C1087.7 290.5 1089.2 291.5 1090.7 292.5C1092.2 293.5 1093.6 294.4 1095.1 295.4C1096.6 296.3 1098.1 297.2 1099.5 298.1C1101 299 1102.5 299.9 1104 300.7C1105.4 301.6 1106.9 302.4 1108.4 303.2C1109.9 304.1 1111.3 304.9 1112.8 305.7C1114.3 306.4 1115.8 307.2 1117.2 308C1118.7 308.7 1120.2 309.5 1121.7 310.2C1123.2 310.9 1124.6 311.6 1126.1 312.3C1127.6 313 1129.1 313.7 1130.5 314.4C1132 315.1 1133.5 315.7 1135 316.4C1136.4 317 1137.9 317.7 1139.4 318.3C1140.9 319 1142.3 319.6 1143.8 320.2C1145.3 320.8 1146.8 321.4 1148.2 322C1149.7 322.6 1151.2 323.2 1152.7 323.8C1154.1 324.4 1155.6 325 1157.1 325.5C1158.6 326.1 1160 326.7 1161.5 327.2C1163 327.8 1164.5 328.3 1166 328.8C1167.4 329.3 1168.9 329.9 1170.4 330.4C1171.9 330.9 1173.3 331.4 1174.8 331.9C1176.3 332.4 1177.8 332.8 1179.2 333.3C1180.7 333.8 1182.2 334.2 1183.7 334.7C1185.1 335.2 1186.6 335.6 1188.1 336C1189.6 336.5 1191 336.9 1192.5 337.3C1194 337.7 1195.5 338.1 1196.9 338.5C1198.4 338.9 1199.9 339.3 1201.4 339.7C1202.8 340.1 1204.3 340.5 1205.8 340.8C1207.3 341.2 1208.7 341.5 1210.2 341.9C1211.7 342.2 1213.2 342.6 1214.7 342.9C1216.1 343.2 1217.6 343.5 1219.1 343.8C1220.6 344.1 1222 344.4 1223.5 344.7C1225 345 1226.5 345.3 1227.9 345.6C1229.4 345.8 1230.9 346.1 1232.4 346.3C1233.8 346.6 1235.3 346.8 1236.8 347.1C1238.3 347.3 1239.7 347.5 1241.2 347.7C1242.7 348 1244.2 348.2 1245.6 348.4C1247.1 348.6 1248.6 348.7 1250.1 348.9C1251.5 349.1 1253.8 349.3 1254.5 349.4" stroke="#2d2391" stroke-width="3.8"/>
<path d="M546.1 345.9C546.8 345.8 549.1 345.5 550.5 345.3C552 345.1 553.5 344.9 555 344.6C556.4 344.4 557.9 344.2 559.4 344C560.9 343.7 562.3 343.5 563.8 343.2C565.3 343 566.8 342.7 568.2 342.5C569.7 342.2 571.2 341.9 572.7 341.6C574.1 341.3 575.6 341 577.1 340.7C578.6 340.4 580 340.1 581.5 339.8C583 339.5 584.5 339.1 585.9 338.8C587.4 338.5 588.9 338.1 590.4 337.8C591.9 337.4 593.3 337 594.8 336.7C596.3 336.3 597.8 335.9 599.2 335.5C600.7 335.1 602.2 334.7 603.7 334.3C605.1 333.9 606.6 333.5 608.1 333C609.6 332.6 611 332.2 612.5 331.7C614 331.3 615.5 330.8 616.9 330.3C618.4 329.9 619.9 329.4 621.4 328.9C622.8 328.4 624.3 327.9 625.8 327.4C627.3 326.9 628.7 326.4 630.2 325.9C631.7 325.4 633.2 324.8 634.6 324.3C636.1 323.7 637.6 323.2 639.1 322.6C640.6 322.1 642 321.5 643.5 320.9C645 320.3 646.5 319.7 647.9 319.1C649.4 318.5 650.9 317.9 652.4 317.3C653.8 316.7 655.3 316 656.8 315.4C658.3 314.7 659.7 314.1 661.2 313.4C662.7 312.8 664.2 312.1 665.6 311.4C667.1 310.7 668.6 310 670.1 309.3C671.5 308.6 673 307.9 674.5 307.2C676 306.5 677.4 305.7 678.9 305C680.4 304.2 681.9 303.5 683.4 302.7C684.8 301.9 686.3 301.2 687.8 300.4C689.3 299.6 690.7 298.8 692.2 298C693.7 297.2 695.2 296.3 696.6 295.5C698.1 294.7 699.6 293.8 701.1 293C702.5 292.1 704 291.3 705.5 290.4C707 289.5 708.4 288.6 709.9 287.7C711.4 286.8 712.9 285.9 714.3 285C715.8 284.1 717.3 283.1 718.8 282.2C720.2 281.3 721.7 280.3 723.2 279.3C724.7 278.4 726.2 277.4 727.6 276.4C729.1 275.4 730.6 274.4 732.1 273.4C733.5 272.4 735 271.4 736.5 270.4C738 269.3 739.4 268.3 740.9 267.2C742.4 266.1 743.9 265.1 745.3 264C746.8 262.9 748.3 261.8 749.8 260.7C751.2 259.6 752.7 258.4 754.2 257.3C755.7 256.1 757.1 255 758.6 253.8C760.1 252.6 761.6 251.4 763 250.2C764.5 249 766 247.8 767.5 246.6C769 245.3 770.4 244.1 771.9 242.8C773.4 241.5 774.9 240.2 776.3 238.9C777.8 237.6 779.3 236.3 780.8 235C782.2 233.7 783.7 232.3 785.2 230.9C786.7 229.6 788.1 228.2 789.6 226.9C791.1 225.5 792.6 224.1 794 222.7C795.5 221.4 797 220 798.5 218.6C799.9 217.3 801.4 215.9 802.9 214.6C804.4 213.2 805.8 211.9 807.3 210.6C808.8 209.3 810.3 207.9 811.8 206.7C813.2 205.4 814.7 204.1 816.2 202.9C817.7 201.6 819.1 200.4 820.6 199.2C822.1 198 823.6 196.9 825 195.8C826.5 194.6 828 193.6 829.5 192.5C830.9 191.5 832.4 190.5 833.9 189.5C835.4 188.5 836.8 187.6 838.3 186.7C839.8 185.8 841.3 185 842.7 184.2C844.2 183.4 845.7 182.7 847.2 182C848.6 181.2 850.1 180.6 851.6 180C853.1 179.3 854.5 178.7 856 178.2C857.5 177.7 859 177.2 860.5 176.7C861.9 176.3 863.4 175.9 864.9 175.5C866.4 175.2 867.8 174.8 869.3 174.6C870.8 174.3 872.3 174.1 873.7 173.9C875.2 173.7 876.7 173.6 878.2 173.5C879.6 173.4 881.1 173.4 882.6 173.4C884.1 173.4 885.5 173.4 887 173.5C888.5 173.6 890 173.8 891.4 174C892.9 174.2 894.4 174.4 895.9 174.7C897.3 175 898.8 175.3 900.3 175.7C901.8 176.1 903.3 176.5 904.7 177C906.2 177.5 907.7 178 909.2 178.6C910.6 179.2 912.1 179.8 913.6 180.5C915.1 181.2 916.5 181.9 918 182.7C919.5 183.5 921 184.3 922.4 185.2C923.9 186.1 925.4 187 926.9 188C928.3 189 929.8 190 931.3 191.1C932.8 192.2 934.2 193.3 935.7 194.5C937.2 195.7 938.7 197 940.1 198.2C941.6 199.5 943.1 200.9 944.6 202.2C946.1 203.6 947.5 205 949 206.4C950.5 207.8 952 209.2 953.4 210.5C954.9 211.9 956.4 213.3 957.9 214.6C959.3 215.9 960.8 217.2 962.3 218.5C963.8 219.7 965.2 220.9 966.7 222C968.2 223.1 969.7 224.1 971.1 225.1C972.6 226 974.1 226.9 975.6 227.6C977 228.3 978.5 228.9 980 229.4C981.5 229.9 982.9 230.2 984.4 230.4C985.9 230.6 987.4 230.6 988.9 230.5C990.3 230.3 991.8 230 993.3 229.5C994.8 229 996.2 228.3 997.7 227.4C999.2 226.4 1000.7 225.3 1002.1 223.9C1003.6 222.6 1005.1 221 1006.6 219.1C1008 217.1 1009.5 215 1011 212.3C1012.5 209.6 1013.9 206.2 1015.4 203C1016.9 199.8 1018.4 195.8 1019.8 193C1021.3 190.2 1022.8 187.5 1024.3 186.2C1025.7 184.9 1027.2 184.3 1028.7 185.3C1030.2 186.4 1031.6 188.8 1033.1 192.4C1034.6 196.1 1036.1 202 1037.6 207.4C1039 212.9 1040.5 219.4 1042 225.2C1043.5 231 1044.9 236.9 1046.4 242.3C1047.9 247.8 1049.4 253.1 1050.8 258C1052.3 262.8 1053.8 267.4 1055.3 271.5C1056.7 275.6 1058.2 279.3 1059.7 282.5C1061.2 285.7 1062.6 288.4 1064.1 290.7C1065.6 293.1 1067.1 295 1068.5 296.7C1070 298.4 1071.5 299.7 1073 301C1074.4 302.3 1075.9 303.4 1077.4 304.5C1078.9 305.5 1080.4 306.5 1081.8 307.5C1083.3 308.5 1084.8 309.5 1086.3 310.4C1087.7 311.3 1089.2 312.2 1090.7 313C1092.2 313.8 1093.6 314.6 1095.1 315.4C1096.6 316.2 1098.1 316.9 1099.5 317.6C1101 318.3 1102.5 319 1104 319.7C1105.4 320.4 1106.9 321 1108.4 321.6C1109.9 322.2 1111.3 322.8 1112.8 323.4C1114.3 323.9 1115.8 324.5 1117.2 325C1118.7 325.5 1120.2 326 1121.7 326.5C1123.2 327 1124.6 327.5 1126.1 328C1127.6 328.4 1129.1 328.9 1130.5 329.3C1132 329.8 1133.5 330.2 1135 330.6C1136.4 331.1 1137.9 331.5 1139.4 331.9C1140.9 332.3 1142.3 332.7 1143.8 333.1C1145.3 333.5 1146.8 333.9 1148.2 334.3C1149.7 334.7 1151.2 335.1 1152.7 335.4C1154.1 335.8 1155.6 336.2 1157.1 336.6C1158.6 336.9 1160 337.3 1161.5 337.7C1163 338 1164.5 338.4 1166 338.7C1167.4 339.1 1168.9 339.4 1170.4 339.7C1171.9 340.1 1173.3 340.4 1174.8 340.7C1176.3 341.1 1177.8 341.4 1179.2 341.7C1180.7 342 1182.2 342.3 1183.7 342.6C1185.1 342.9 1186.6 343.2 1188.1 343.5C1189.6 343.8 1191 344.1 1192.5 344.4C1194 344.7 1195.5 345 1196.9 345.3C1198.4 345.6 1199.9 345.8 1201.4 346.1C1202.8 346.4 1204.3 346.7 1205.8 346.9C1207.3 347.2 1208.7 347.5 1210.2 347.7C1211.7 348 1213.2 348.2 1214.7 348.5C1216.1 348.7 1217.6 349 1219.1 349.2C1220.6 349.5 1222 349.7 1223.5 350C1225 350.2 1226.5 350.5 1227.9 350.7C1229.4 350.9 1230.9 351.2 1232.4 351.4C1233.8 351.6 1235.3 351.8 1236.8 352.1C1238.3 352.3 1239.7 352.5 1241.2 352.7C1242.7 353 1244.2 353.2 1245.6 353.4C1247.1 353.6 1248.6 353.8 1250.1 354C1251.5 354.2 1253.8 354.5 1254.5 354.7" stroke="#cf1220" stroke-width="3.6"/>
</g>
<line x1="913" y1="193" x2="913" y2="375" stroke="#111" stroke-width="2.6" stroke-dasharray="10 8.2"/>
<line x1="1098.7" y1="174" x2="1098.7" y2="375" stroke="#111" stroke-width="2.6" stroke-dasharray="10 8.2"/>
<path d="M908.8 246.1L876.2 216L888.5 240.5L865 255.6Z" fill="#000"/>
<path d="M1100 208.8L1118.2 168.5L1116 196.1L1144.2 200.6Z" fill="#000"/>
<rect x="546.1" y="30.5" width="708.4" height="344.8" fill="none" stroke="#868686" stroke-width="1.8"/>
<path d="M634.6 375.3v-7.5M634.6 30.5v7.5M723.2 375.3v-7.5M723.2 30.5v7.5M811.8 375.3v-7.5M811.8 30.5v7.5M900.3 375.3v-7.5M900.3 30.5v7.5M988.9 375.3v-7.5M988.9 30.5v7.5M1077.4 375.3v-7.5M1077.4 30.5v7.5M1166 375.3v-7.5M1166 30.5v7.5M546.1 289.1h7.5M1254.5 289.1h-7.5M546.1 202.9h7.5M1254.5 202.9h-7.5M546.1 116.7h7.5M1254.5 116.7h-7.5" stroke="#777" stroke-width="1.5" fill="none"/>
<g font-family='"Liberation Sans", Arial, Helvetica, sans-serif' font-size="28" fill="#111">
<text x="532" y="387.3" text-anchor="end">0</text>
<text x="532" y="302.9" text-anchor="end">10</text>
<text x="532" y="216.7" text-anchor="end">20</text>
<text x="532" y="130.5" text-anchor="end">30</text>
<text x="532" y="44.3" text-anchor="end">40</text>
<text x="544.7" y="409.0" text-anchor="middle">5</text>
<text x="633.2" y="409.0" text-anchor="middle">6</text>
<text x="721.8" y="409.0" text-anchor="middle">7</text>
<text x="810.4" y="409.0" text-anchor="middle">8</text>
<text x="898.9" y="409.0" text-anchor="middle">9</text>
<text x="987.5" y="409.0" text-anchor="middle">10</text>
<text x="1076" y="409.0" text-anchor="middle">11</text>
<text x="1164.5" y="409.0" text-anchor="middle">12</text>
<text x="1253.1" y="409.0" text-anchor="middle">13</text>
<text x="898.5" y="436" text-anchor="middle" font-size="29.4">λ (µm)</text>
<text transform="translate(491.3 221.5) rotate(-90)" text-anchor="middle" font-size="29.2">Scat. CS</text>
</g>
<rect x="584.8" y="63.5" width="131.7" height="111.2" fill="#1a1918"/>
<rect x="584.8" y="63.5" width="131.7" height="111.2" filter="url(#noise)" opacity="0.10"/>
<linearGradient id="gL1" gradientUnits="userSpaceOnUse" x1="618" y1="76" x2="616" y2="123"><stop offset="0" stop-color="#e0141c"/><stop offset="0.25" stop-color="#ee2a36"/><stop offset="0.5" stop-color="#f28088"/><stop offset="0.72" stop-color="#f6dcdf"/><stop offset="0.9" stop-color="#ffffff"/><stop offset="1" stop-color="#d8d8d8"/></linearGradient>
<linearGradient id="gL2" gradientUnits="userSpaceOnUse" x1="630" y1="83" x2="698" y2="163"><stop offset="0" stop-color="#e8121c"/><stop offset="0.3" stop-color="#f03844"/><stop offset="0.55" stop-color="#f59aa2"/><stop offset="0.75" stop-color="#f8e4e6"/><stop offset="0.92" stop-color="#ffffff"/><stop offset="1" stop-color="#cfcfcf"/></linearGradient>
<g filter="url(#blur1)">
<ellipse cx="616" cy="124.5" rx="8.5" ry="2.6" fill="#050505"/>
<ellipse cx="697" cy="165.5" rx="9" ry="2.6" fill="#050505" transform="rotate(28 697 165.5)"/>
<path d="M623.5 80.5 A5.5 5.5 0 0 0 612.5 79.9 L608.8 122.2 L623.2 122.8 Z" fill="url(#gL1)" />
<path d="M632.6 80.4 A4.8 4.8 0 0 0 625.4 86.6 L694.3 167.1 L702.7 159.9 Z" fill="url(#gL2)" />
</g>
<g stroke="#fff" stroke-width="3.2">
<path d="M591.8 79.9h15M599.3 72.5v14.8M637.4 79.9h15M644.9 72.5v14.8"/>
</g>
<rect x="1108.8" y="40.1" width="129.8" height="110.2" fill="#1a1918"/>
<rect x="1108.8" y="40.1" width="129.8" height="110.2" filter="url(#noise)" opacity="0.10"/>
<linearGradient id="gR1" gradientUnits="userSpaceOnUse" x1="1141.5" y1="52" x2="1140" y2="99"><stop offset="0" stop-color="#e0141c"/><stop offset="0.25" stop-color="#ee2a36"/><stop offset="0.5" stop-color="#f28088"/><stop offset="0.72" stop-color="#f6dcdf"/><stop offset="0.9" stop-color="#ffffff"/><stop offset="1" stop-color="#d8d8d8"/></linearGradient>
<linearGradient id="gR2" gradientUnits="userSpaceOnUse" x1="1153" y1="58" x2="1221" y2="140"><stop offset="0" stop-color="#2a28a4"/><stop offset="0.3" stop-color="#4a46bc"/><stop offset="0.55" stop-color="#9a96dc"/><stop offset="0.75" stop-color="#dcdaf4"/><stop offset="0.92" stop-color="#ffffff"/><stop offset="1" stop-color="#d0d0d0"/></linearGradient>
<g filter="url(#blur1)">
<ellipse cx="1139.5" cy="100.5" rx="8.5" ry="2.6" fill="#050505"/>
<ellipse cx="1221" cy="142.5" rx="9" ry="2.6" fill="#050505" transform="rotate(28 1221 142.5)"/>
<path d="M1146.5 54.8 A5.2 5.2 0 0 0 1136.1 54.4 L1132.8 98.3 L1147.2 98.7 Z" fill="url(#gR1)" />
<path d="M1156.3 56.1 A4.9 4.9 0 0 0 1148.9 62.5 L1217.6 144.2 L1226.4 136.8 Z" fill="url(#gR2)" />
</g>
<g stroke="#fff" stroke-width="3.1">
<path d="M1115.0 54.7h15.6M1122.8 47.3v14.8M1160 53.5h16.6"/>
</g>
<rect x="473.7" y="452.8" width="193.6" height="148.1" fill="#2b2a8c"/>
<rect x="480" y="458" width="182.1" height="140.9" fill="url(#sky)"/>
<g filter="url(#blur1)">
<path d="M497.7 508.2L533 576.3L643.6 555.9L643.6 563.1L533 584.5L498.2 513.4Z" fill="#5c5c5c"/>
<path d="M497.7 508.2L608 489L643.6 555.9L533 576.3Z" fill="url(#slab)" stroke="#5d6e74" stroke-width="1.3" stroke-linejoin="round"/>
<line x1="566.7" y1="475" x2="566.7" y2="528.6" stroke="#959ba1" stroke-width="6.2" stroke-linecap="round"/>
<line x1="565.8" y1="475" x2="565.8" y2="528.1" stroke="#e6eaee" stroke-width="4.0" stroke-linecap="round"/>
<circle cx="566.7" cy="474.8" r="2.6" fill="#f8fbfd"/>
<line x1="576.2" y1="477.8" x2="576.2" y2="532.7" stroke="#959ba1" stroke-width="6.2" stroke-linecap="round"/>
<line x1="575.3" y1="477.8" x2="575.3" y2="532.2" stroke="#e8ecf0" stroke-width="4.0" stroke-linecap="round"/>
<circle cx="576.2" cy="477.6" r="2.6" fill="#f8fbfd"/>
</g>
<rect x="672.3" y="452.8" width="194.1" height="148.1" fill="#0e9550"/>
<rect x="677.3" y="457.2" width="183.9" height="142.3" fill="url(#sky)"/>
<g filter="url(#blur1)">
<path d="M695.4 508.2L730.7 576.3L841.3 555.9L841.3 563.1L730.7 584.5L695.9 513.4Z" fill="#5c5c5c"/>
<path d="M695.4 508.2L805.7 489L841.3 555.9L730.7 576.3Z" fill="url(#slab)" stroke="#5d6e74" stroke-width="1.3" stroke-linejoin="round"/>
<line x1="763.6" y1="476.4" x2="760.9" y2="521.8" stroke="#959ba1" stroke-width="6.2" stroke-linecap="round"/>
<line x1="762.7" y1="476.4" x2="760" y2="521.3" stroke="#dde1e5" stroke-width="4.0" stroke-linecap="round"/>
<circle cx="763.6" cy="476.2" r="2.6" fill="#f8fbfd"/>
<line x1="774" y1="479" x2="785.4" y2="530" stroke="#959ba1" stroke-width="6.2" stroke-linecap="round"/>
<line x1="773.1" y1="479" x2="784.5" y2="529.5" stroke="#e0e4e8" stroke-width="4.0" stroke-linecap="round"/>
<circle cx="774" cy="478.8" r="2.6" fill="#f8fbfd"/>
</g>
<rect x="871.5" y="452.8" width="192.4" height="148.1" fill="#d2101c"/>
<rect x="876.5" y="457.2" width="182.2" height="142.3" fill="url(#sky)"/>
<g filter="url(#blur1)">
<path d="M894.9 508.2L930.2 576.3L1040.8 555.9L1040.8 563.1L930.2 584.5L895.4 513.4Z" fill="#5c5c5c"/>
<path d="M894.9 508.2L1005.2 489L1040.8 555.9L930.2 576.3Z" fill="url(#slab)" stroke="#5d6e74" stroke-width="1.3" stroke-linejoin="round"/>
<line x1="963" y1="476.4" x2="955.4" y2="515" stroke="#959ba1" stroke-width="6.2" stroke-linecap="round"/>
<line x1="962.1" y1="476.4" x2="954.5" y2="514.5" stroke="#b2b6ba" stroke-width="4.0" stroke-linecap="round"/>
<circle cx="963" cy="476.2" r="2.6" fill="#f8fbfd"/>
<line x1="973" y1="479" x2="994" y2="527" stroke="#959ba1" stroke-width="6.2" stroke-linecap="round"/>
<line x1="972.1" y1="479" x2="993.1" y2="526.5" stroke="#bcc0c4" stroke-width="4.0" stroke-linecap="round"/>
<circle cx="973" cy="478.8" r="2.6" fill="#f8fbfd"/>
</g>
<rect x="1069" y="452.8" width="192.7" height="148.1" fill="#19b0b4"/>
<rect x="1074" y="457.2" width="182.5" height="142.3" fill="url(#sky)"/>
<g filter="url(#blur1)">
<path d="M1092.2 508.2L1127.5 576.3L1238.1 555.9L1238.1 563.1L1127.5 584.5L1092.7 513.4Z" fill="#5c5c5c"/>
<path d="M1092.2 508.2L1202.5 489L1238.1 555.9L1127.5 576.3Z" fill="url(#slab)" stroke="#5d6e74" stroke-width="1.3" stroke-linejoin="round"/>
<line x1="1160" y1="476.4" x2="1147.8" y2="506.8" stroke="#959ba1" stroke-width="6.2" stroke-linecap="round"/>
<line x1="1159.1" y1="476.4" x2="1146.9" y2="506.3" stroke="#a2a4a6" stroke-width="4.0" stroke-linecap="round"/>
<circle cx="1160" cy="476.2" r="2.6" fill="#f8fbfd"/>
<line x1="1171.2" y1="479" x2="1208.6" y2="525.9" stroke="#959ba1" stroke-width="6.2" stroke-linecap="round"/>
<line x1="1170.3" y1="479" x2="1207.7" y2="525.4" stroke="#cbc9c2" stroke-width="4.0" stroke-linecap="round"/>
<circle cx="1171.2" cy="478.8" r="2.6" fill="#f8fbfd"/>
</g>
</g>
<g id="panelC">
<text transform="translate(1311 35.6) scale(0.93 1)" font-family='"Liberation Sans", Arial, Helvetica, sans-serif' font-weight="bold" font-size="45" fill="#000">C</text>
<rect x="1397.8" y="27.9" width="599.5" height="151.9" fill="#fff"/>
<rect x="1397.8" y="27.9" width="599.5" height="151.9" fill="none" stroke="#8a8a8a" stroke-width="1.6"/>
<path d="M1472.7 179.8v-5.5M1472.7 27.9v5.5M1547.7 179.8v-5.5M1547.7 27.9v5.5M1622.6 179.8v-5.5M1622.6 27.9v5.5M1697.5 179.8v-5.5M1697.5 27.9v5.5M1772.5 179.8v-5.5M1772.5 27.9v5.5M1847.4 179.8v-5.5M1847.4 27.9v5.5M1922.4 179.8v-5.5M1922.4 27.9v5.5M1397.8 129.2h5.5M1997.3 129.2h-5.5M1397.8 78.5h5.5M1997.3 78.5h-5.5" stroke="#777" stroke-width="1.3" fill="none"/>
<g clip-path="url(#clipC1)"><path d="M1397 45C1397.5 44.7 1398.9 41.3 1399.8 43.1C1400.8 45 1401.7 51.1 1402.9 55.9C1404.1 60.7 1405.8 70.7 1406.9 72C1408.1 73.3 1408.9 68.4 1410 63.5C1411.1 58.6 1412.5 46.8 1413.6 42.7C1414.6 38.6 1415.4 38.8 1416.4 38.9C1417.4 39 1418.4 41 1419.5 43.1C1420.6 45.3 1421.6 48.3 1423 51.7C1424.4 55 1426.2 59.9 1427.8 63.5C1429.3 67 1430.7 70.2 1432.5 72.9C1434.3 75.7 1436.2 77.4 1438.4 80C1440.6 82.6 1443.8 88.3 1445.5 88.6C1447.2 88.8 1447.7 82.9 1448.6 81.5C1449.5 80 1450.1 78.9 1450.9 80C1451.8 81.2 1453 86.1 1453.8 88.1C1454.6 90.1 1454.8 91.2 1455.7 91.9C1456.5 92.5 1457.7 90.9 1459 91.9C1460.2 92.9 1461.7 96.2 1463.2 97.8C1464.7 99.4 1466 99.8 1468 101.3C1469.9 102.9 1472.3 105.6 1475.1 107.3C1477.8 108.9 1481 110.1 1484.5 111.3C1488.1 112.5 1492.4 113.1 1496.4 114.3C1500.3 115.6 1504.2 117.1 1508.2 118.6C1512.1 120.1 1516.1 121.8 1520 123.1C1524 124.4 1527.4 125.2 1531.8 126.2C1536.3 127.1 1540.5 127.5 1547 128.8C1553.5 130.1 1562.8 132.4 1570.7 134C1578.5 135.5 1585.8 136.7 1594.3 138C1602.9 139.3 1613.3 140.5 1622 141.6C1630.7 142.6 1638.4 143.5 1646.4 144.4C1654.4 145.3 1661.6 146 1670 146.8C1678.5 147.5 1688.5 148.4 1697 149.1C1705.4 149.8 1712.8 150.4 1720.7 151C1728.5 151.6 1735.8 152.3 1744.3 152.9C1752.9 153.5 1764.1 153.9 1772 154.6C1779.9 155.2 1785.6 156.3 1791.6 156.9C1797.7 157.5 1804.6 157.6 1808.2 158.1C1811.7 158.6 1811.7 160.1 1812.9 160C1814.1 159.9 1814.1 157.6 1815.3 157.6C1816.5 157.7 1818.6 160.4 1820 160.5C1821.4 160.6 1822.2 157.9 1823.6 158.1C1824.9 158.4 1826.7 161.6 1828.3 161.9C1829.9 162.2 1831.7 160 1833 160C1834.4 160 1835.2 161.8 1836.6 161.7C1838 161.5 1839.9 160 1841.3 159.3C1842.7 158.6 1843.9 158.3 1844.9 157.6C1845.8 157 1846 156.5 1847 155.3C1847.9 154 1849.4 150.9 1850.5 150.1C1851.7 149.2 1852.5 150.9 1854.1 150.1C1855.7 149.2 1857.6 145.8 1860 145.1C1862.4 144.4 1866 146 1868.3 145.8C1870.5 145.6 1872.1 145.4 1873.5 143.9C1874.9 142.4 1875.5 140.8 1876.6 136.8C1877.7 132.9 1878.9 125.3 1880.1 120.3C1881.3 115.2 1882.8 109.3 1883.7 106.5C1884.5 103.8 1884.7 103.4 1885.3 103.7C1886 104 1886.8 105.3 1887.7 108.4C1888.6 111.6 1889.7 117.5 1890.8 122.6C1891.9 127.8 1893.1 134.7 1894.3 139.2C1895.5 143.7 1896.3 147.3 1897.9 149.8C1899.4 152.4 1901.9 153.3 1903.8 154.6C1905.6 155.9 1907.5 158.8 1909 157.6C1910.5 156.5 1911.7 149.8 1912.8 147.5C1913.9 145.2 1914.7 144.1 1915.6 143.9C1916.5 143.7 1917.1 145 1918 146.3C1918.8 147.5 1919.2 150.3 1920.8 151.5C1922.4 152.7 1925.5 152.9 1927.4 153.4C1929.3 153.9 1930.4 155.2 1932.2 154.6C1933.9 154 1935.7 150.8 1938.1 149.8C1940.4 148.9 1943 148.8 1946.4 148.7C1949.7 148.5 1955 148.7 1958.2 149.1C1961.3 149.6 1963.1 150.8 1965.3 151.5C1967.5 152.2 1969.4 152.4 1971.2 153.4C1973 154.4 1974.4 158 1975.9 157.6C1977.5 157.2 1979.1 152.4 1980.7 151C1982.2 149.6 1983.8 148.3 1985.4 149.1C1987 149.9 1988.2 154.3 1990.1 155.8C1992.1 157.2 1995.8 157.7 1997 158.1" fill="none" stroke="#111" stroke-width="3.3" stroke-linejoin="round" stroke-linecap="round"/></g>
<rect x="1874.0" y="26.8" width="25.4" height="156.8" fill="url(#band)" style="mix-blend-mode:multiply"/>
<g font-family='"Liberation Sans", Arial, Helvetica, sans-serif' font-size="20" fill="#111">
<text x="1391.6" y="44" text-anchor="end">0.3</text>
<text x="1391.6" y="94.2" text-anchor="end">0.2</text>
<text x="1391.6" y="141.2" text-anchor="end">0.1</text>
<text x="1391.6" y="188" text-anchor="end">0</text>
<text x="1401.2" y="207.3" text-anchor="middle">3</text>
<text x="1472.1" y="201.6" text-anchor="middle">3.5</text>
<text x="1547.1" y="201.6" text-anchor="middle">4</text>
<text x="1622" y="201.6" text-anchor="middle">4.5</text>
<text x="1697" y="201.6" text-anchor="middle">5</text>
<text x="1771.9" y="201.6" text-anchor="middle">5.5</text>
<text x="1846.8" y="201.6" text-anchor="middle">6</text>
<text x="1921.8" y="201.6" text-anchor="middle">6.5</text>
<text x="1997.6" y="201.6" text-anchor="middle">7</text>
<text x="1699.5" y="226" text-anchor="middle" font-size="21.2">λ (µm)</text>
<text transform="translate(1322.8 114.6) rotate(-90)" text-anchor="middle" font-size="20.5">Cresyl blue</text>
<text transform="translate(1348.2 112) rotate(-90)" text-anchor="middle" font-size="20.5">absorbance</text>
</g>
<rect x="1403.7" y="242.1" width="593.5" height="346.4" fill="#fff"/>
<g clip-path="url(#clipC2)" fill="none" stroke-linejoin="round" stroke-linecap="round">
<path d="M1404 456.3C1405.5 455.1 1409.1 450.7 1412.7 448.7C1416.4 446.7 1421.4 445.4 1425.8 444.3C1430.2 443.2 1434.5 442.4 1438.9 442.2C1443.3 441.9 1448 442.5 1452 442.8C1456 443.2 1459.3 443.4 1462.9 444.3C1466.5 445.3 1470.2 447.7 1473.8 448.7C1477.4 449.7 1481.1 450.3 1484.7 450.2C1488.3 450.1 1491.6 449.8 1495.6 448C1499.6 446.3 1504.3 442.4 1508.7 440C1513.1 437.5 1517.4 434.8 1521.8 433.4C1526.1 432.1 1531.2 431.7 1534.9 431.9C1538.5 432.1 1540 432.3 1543.6 434.5C1547.2 436.8 1552.3 441.1 1556.7 445.4C1561 449.8 1565.4 455.6 1569.8 460.7C1574.1 465.8 1578.8 471.6 1582.8 476C1586.8 480.3 1590.2 484.3 1593.7 486.9C1597.3 489.4 1600.8 491.2 1604 491.2C1607.2 491.2 1609.1 489.8 1612.7 486.9C1616.4 484 1621.4 477.8 1625.8 473.8C1630.2 469.8 1634.5 465.8 1638.9 462.9C1643.3 460 1648 458.2 1652 456.3C1656 454.5 1659.3 453.8 1662.9 452C1666.5 450.2 1670.2 446.9 1673.8 445.4C1677.4 444 1681.4 443.4 1684.7 443.2C1688 443.1 1690.5 443.2 1693.4 444.3C1696.3 445.4 1698.9 446.7 1702.1 449.8C1705.4 452.9 1709.8 457.4 1713.1 462.9C1716.3 468.3 1719.3 476.4 1721.8 482.5C1724.3 488.6 1725.5 492.1 1728 499.3C1730.5 506.4 1733.8 517.4 1736.7 525.4C1739.6 533.4 1742.5 541.1 1745.4 547.2C1748.3 553.4 1751.4 559.1 1754.2 562.5C1756.9 566 1759.3 567.6 1761.8 568C1764.3 568.3 1766.7 567.4 1769.4 564.7C1772.2 562 1775.2 557.1 1778.2 551.6C1781.1 546.2 1784 537.4 1786.9 532C1789.8 526.5 1792.7 522.2 1795.6 518.9C1798.5 515.5 1801.6 513.4 1804.3 511.9C1807.1 510.5 1809.4 509.7 1812 510.2C1814.5 510.6 1816.9 512 1819.6 514.5C1822.3 517.1 1825.4 521.6 1828.3 525.4C1831.2 529.2 1834.1 534.2 1837 537.4C1840 540.7 1842.9 544.3 1845.8 545.1C1848.7 545.8 1851.6 544.3 1854.5 541.8C1857.4 539.2 1860.3 535.1 1863.2 529.8C1866.1 524.5 1869 517.8 1871.9 510.2C1874.8 502.5 1878 492.1 1880.7 484C1883.3 475.9 1885.4 469.7 1888.1 461.6C1890.7 453.5 1893.9 444.2 1896.8 435.4C1899.7 426.7 1902.6 416.9 1905.5 409.3C1908.4 401.6 1911.3 395.4 1914.2 389.6C1917.1 383.8 1920.4 378.9 1923 374.4C1925.5 369.8 1927 366.4 1929.5 362.1C1932 357.9 1935.3 352.7 1938.2 349.1C1941.1 345.4 1943.3 343.2 1946.9 340.3C1950.6 337.4 1955.7 334.5 1960 331.6C1964.4 328.7 1968.8 325.4 1973.1 322.9C1977.5 320.3 1982.2 318.2 1986.2 316.3C1990.2 314.5 1995.3 312.7 1997.1 312" stroke="#2c2792" stroke-width="3.5"/>
<path d="M1404 455.2C1405.1 454.2 1408.5 450.3 1410.5 448.7C1412.5 447.1 1413.8 445.7 1416 445.4C1418.2 445.2 1421.1 446.8 1423.6 447.2C1426.2 447.5 1429.4 448.4 1431.3 447.6C1433.1 446.8 1433.3 443.6 1434.5 442.2C1435.8 440.7 1437.3 439.4 1438.9 438.9C1440.5 438.4 1442.2 440.1 1444.3 439.3C1446.5 438.6 1449.3 435.9 1452 434.5C1454.7 433.2 1457.4 431.9 1460.7 431.3C1464 430.6 1467.6 430.5 1471.6 430.6C1475.6 430.7 1480.3 432.3 1484.7 431.9C1489.1 431.5 1493.4 429.5 1497.8 428C1502.1 426.4 1506.5 424.7 1510.9 422.5C1515.2 420.3 1520 416.8 1524 414.9C1528 413 1531.6 411.7 1534.9 411C1538.1 410.2 1540.7 410.2 1543.6 410.5C1546.5 410.9 1549.4 411.3 1552.3 413.2C1555.2 415 1557.8 417.5 1561 421.4C1564.3 425.4 1568.3 431.3 1571.9 436.7C1575.6 442.2 1579.2 448 1582.8 454.2C1586.5 460.3 1590.2 467.2 1593.7 473.8C1597.3 480.3 1601.2 488.7 1604 493.4C1606.8 498.1 1608.2 500.1 1610.5 502.1C1612.9 504.1 1615.6 505.6 1618.2 505.4C1620.7 505.2 1622.7 504.9 1625.8 501C1628.9 497.2 1633.1 488.5 1636.7 482.5C1640.4 476.5 1643.3 470.9 1647.6 465.1C1652 459.2 1657.8 453.4 1662.9 447.6C1668 441.8 1673.4 435.3 1678.2 430.2C1682.9 425.1 1687.2 420.3 1691.2 417.1C1695.2 413.8 1698.9 411.7 1702.1 410.5C1705.4 409.4 1708.3 409.7 1710.9 410.1C1713.4 410.5 1715.2 410.8 1717.4 412.7C1719.6 414.6 1721.4 417.1 1724 421.4C1726.5 425.8 1729.8 431.6 1732.7 438.9C1735.6 446.2 1739.3 457.9 1741.4 465.1C1743.5 472.2 1743.3 474.3 1745.4 481.8C1747.6 489.3 1751.3 502.2 1754.2 510.2C1757.1 518.2 1760.3 525.2 1762.9 529.8C1765.4 534.3 1767.2 535.9 1769.4 537.4C1771.6 539 1773.8 539.3 1776 539C1778.2 538.6 1780 539 1782.5 535.2C1785.1 531.5 1788.3 523.1 1791.2 516.7C1794.1 510.3 1796.7 502.9 1800 497.1C1803.2 491.3 1807.2 485.6 1810.9 481.8C1814.5 478 1818.9 475.6 1821.8 474.2C1824.7 472.7 1826.1 472.7 1828.3 473.1C1830.5 473.4 1832.3 473.8 1834.9 476.4C1837.4 478.9 1840.7 483.8 1843.6 488.4C1846.5 492.9 1849.4 499.4 1852.3 503.6C1855.2 507.8 1858.1 511.1 1861 513.4C1863.9 515.8 1867.6 517.1 1869.8 517.8C1871.9 518.5 1872.7 518.7 1874.1 517.8C1875.6 516.9 1877.2 513.8 1878.5 512.3C1879.8 510.9 1880.5 509 1881.8 508.9C1883 508.7 1884.7 510.9 1886.1 511.7C1887.6 512.5 1888.8 513.9 1890.5 513.4C1892.1 513 1893.8 513.3 1895.9 509.1C1898.1 504.8 1901 495.3 1903.3 487.8C1905.7 480.2 1907.7 471.1 1909.9 463.8C1912.1 456.5 1914.6 448.9 1916.4 444.2C1918.2 439.4 1919.3 439.4 1920.8 435.4C1922.2 431.4 1923.3 426 1925.1 420.2C1927 414.3 1929.5 406.7 1931.7 400.5C1933.9 394.4 1936 389.1 1938.2 383.1C1940.4 377.1 1942.2 370.7 1944.8 364.3C1947.3 357.9 1950.6 350.9 1953.5 344.7C1956.4 338.5 1959.3 333.1 1962.2 327.2C1965.1 321.4 1968.4 314.3 1970.9 309.8C1973.5 305.2 1975.3 302.2 1977.5 300C1979.7 297.8 1981.8 298.3 1984 296.7C1986.2 295.1 1988.4 292.9 1990.6 290.2C1992.7 287.4 1996 282 1997.1 280.3" stroke="#d01226" stroke-width="3.4"/>
</g>
<rect x="1403.7" y="242.1" width="593.5" height="346.4" fill="none" stroke="#8e8e8e" stroke-width="1.8"/>
<path d="M1477.9 588.5v-5.5M1477.9 242.1v5.5M1552.1 588.5v-5.5M1552.1 242.1v5.5M1626.3 588.5v-5.5M1626.3 242.1v5.5M1700.5 588.5v-5.5M1700.5 242.1v5.5M1774.6 588.5v-5.5M1774.6 242.1v5.5M1848.8 588.5v-5.5M1848.8 242.1v5.5M1923 588.5v-5.5M1923 242.1v5.5M1403.7 553.9h5.5M1997.2 553.9h-5.5M1403.7 519.2h5.5M1997.2 519.2h-5.5M1403.7 484.6h5.5M1997.2 484.6h-5.5M1403.7 449.9h5.5M1997.2 449.9h-5.5M1403.7 415.3h5.5M1997.2 415.3h-5.5M1403.7 380.7h5.5M1997.2 380.7h-5.5M1403.7 346h5.5M1997.2 346h-5.5M1403.7 311.4h5.5M1997.2 311.4h-5.5M1403.7 276.7h5.5M1997.2 276.7h-5.5" stroke="#777" stroke-width="1.3" fill="none"/>
<g font-family='"Liberation Sans", Arial, Helvetica, sans-serif' font-size="20" fill="#111">
<rect x="1873.8" y="240.4" width="25.4" height="349.2" fill="url(#band)" style="mix-blend-mode:multiply"/>
<text x="1392" y="257.5" text-anchor="end">1.04</text>
<text x="1392" y="291.4" text-anchor="end">1.02</text>
<text x="1392" y="325.4" text-anchor="end">1</text>
<text x="1392" y="359.3" text-anchor="end">0.98</text>
<text x="1392" y="393.2" text-anchor="end">0.96</text>
<text x="1392" y="427.2" text-anchor="end">0.94</text>
<text x="1392" y="461.1" text-anchor="end">0.92</text>
<text x="1392" y="495" text-anchor="end">0.9</text>
<text x="1392" y="528.9" text-anchor="end">0.88</text>
<text x="1392" y="562.9" text-anchor="end">0.86</text>
<text x="1392" y="596.8" text-anchor="end">0.84</text>
<text x="1404.7" y="612.6" text-anchor="middle">3</text>
<text x="1476.5" y="612.6" text-anchor="middle">3.5</text>
<text x="1550.7" y="612.6" text-anchor="middle">4</text>
<text x="1624.9" y="612.6" text-anchor="middle">4.5</text>
<text x="1699" y="612.6" text-anchor="middle">5</text>
<text x="1773.2" y="612.6" text-anchor="middle">5.5</text>
<text x="1847.4" y="612.6" text-anchor="middle">6</text>
<text x="1921.6" y="612.6" text-anchor="middle">6.5</text>
<text x="1997.2" y="612.6" text-anchor="middle">7</text>
<text x="1700" y="635.4" text-anchor="middle" font-size="21.2">λ (µm)</text>
<text transform="translate(1323.6 419.4) rotate(-90)" text-anchor="middle" font-size="20.7">Reflectance</text>
</g>
<rect x="1409.2" y="524" width="160" height="58.5" fill="#fff" stroke="#999" stroke-width="1.5"/>
<line x1="1415.7" y1="533.7" x2="1450.7" y2="533.7" stroke="#38369a" stroke-width="3.4"/>
<line x1="1415.7" y1="566.7" x2="1450.7" y2="566.7" stroke="#d01c30" stroke-width="3.4"/>
<text x="1457" y="540.0" font-family='"Liberation Sans", Arial, Helvetica, sans-serif' font-size="18.6" fill="#111">w/o molecule</text>
<text x="1457" y="570.3" font-family='"Liberation Sans", Arial, Helvetica, sans-serif' font-size="18.6" fill="#111">w/ molecule</text>
<rect x="1420.1" y="257.2" width="367.1" height="139.4" fill="#323232"/>
<g clip-path="url(#clipI1)">
<rect x="1400" y="335" width="200" height="80" fill="#414141" filter="url(#blur3)"/>
<linearGradient id="gS1" gradientUnits="userSpaceOnUse" x1="1487" y1="297" x2="1437" y2="354"><stop offset="0" stop-color="#ececec"/><stop offset="0.35" stop-color="#cfcfcf"/><stop offset="1" stop-color="#9c9c9c"/></linearGradient>
<linearGradient id="gS2" gradientUnits="userSpaceOnUse" x1="1515" y1="293.5" x2="1567" y2="346.5"><stop offset="0" stop-color="#f0f0f0"/><stop offset="0.35" stop-color="#d2d2d2"/><stop offset="1" stop-color="#a4a4a4"/></linearGradient>
<g filter="url(#blur2)">
<line x1="1486.5" y1="298" x2="1438" y2="352.5" stroke="url(#gS1)" stroke-width="19" stroke-linecap="round"/>
<line x1="1516" y1="294.5" x2="1566" y2="345.5" stroke="url(#gS2)" stroke-width="19" stroke-linecap="round"/>
</g>
<rect x="1420.1" y="257.2" width="164.3" height="139.4" filter="url(#noise)" opacity="0.10"/>
<g stroke="#0c0c0c" stroke-width="1.7" stroke-dasharray="3 2.4" fill="none" opacity="0.9">
<rect x="1470.9" y="280.2" width="59.9" height="31.4"/>
<line x1="1530.8" y1="280.2" x2="1584.4" y2="258.5"/>
<line x1="1530.8" y1="311.6" x2="1584.4" y2="390"/>
</g>
<text x="1467.6" y="379.4" font-family='"Liberation Sans", Arial, Helvetica, sans-serif' font-size="20.6" fill="#fff">500 nm</text>
<line x1="1478.8" y1="383" x2="1523.5" y2="383" stroke="#cfcfcf" stroke-width="2.2"/>
</g>
<rect x="1584.4" y="257.2" width="3" height="139.4" fill="#f6f6f6"/>
<g clip-path="url(#clipI2)">
<rect x="1587.3" y="257.2" width="199.9" height="139.4" fill="#353535"/>
<linearGradient id="gS3" gradientUnits="userSpaceOnUse" x1="1650" y1="300" x2="1600" y2="390"><stop offset="0" stop-color="#bdbdbd"/><stop offset="0.5" stop-color="#c6c6c6"/><stop offset="1" stop-color="#d6d6d6"/></linearGradient>
<linearGradient id="gS4" gradientUnits="userSpaceOnUse" x1="1720" y1="295" x2="1790" y2="390"><stop offset="0" stop-color="#c6c6c6"/><stop offset="0.5" stop-color="#c2c2c2"/><stop offset="1" stop-color="#d2d2d2"/></linearGradient>
<g filter="url(#blur2)">
<path d="M1555 364Q1555 364 1555 364L1610.4 311.5Q1622 300.5 1637.6 303.9L1652.3 307Q1664 309.5 1667.5 318.2L1667.5 318.2Q1671 327 1664.4 334.5L1596 412Q1596 412 1596 412L1555 412Q1555 412 1555 412Z" fill="url(#gS3)"/>
<path d="M1705.3 327.7Q1697 319 1703 308.6L1704.1 306.7Q1711 294.5 1723.5 292.5L1723.5 292.5Q1736 290.5 1747.1 299.1L1800 340Q1800 340 1800 340L1800 412Q1800 412 1800 412L1785.6 412Q1785.6 412 1785.6 412Z" fill="url(#gS4)"/>
<line x1="1664" y1="334" x2="1611" y2="393.5" stroke="#f6f6f6" stroke-width="3.2" opacity="0.75"/>
<line x1="1722" y1="345" x2="1771" y2="394.5" stroke="#f6f6f6" stroke-width="3.2" opacity="0.65"/>
<circle cx="1633.5" cy="320.5" r="6.5" fill="#d4d4d4"/>
<circle cx="1633" cy="321.5" r="3.6" fill="#8e8e8e"/>
<circle cx="1727.5" cy="308" r="7" fill="#d8d8d8"/>
<circle cx="1727.3" cy="309" r="3.8" fill="#8a8a8a"/>
</g>
<rect x="1587.3" y="257.2" width="199.9" height="139.4" filter="url(#noise)" opacity="0.10"/>
</g>
</g>
</svg>
</body></html>
